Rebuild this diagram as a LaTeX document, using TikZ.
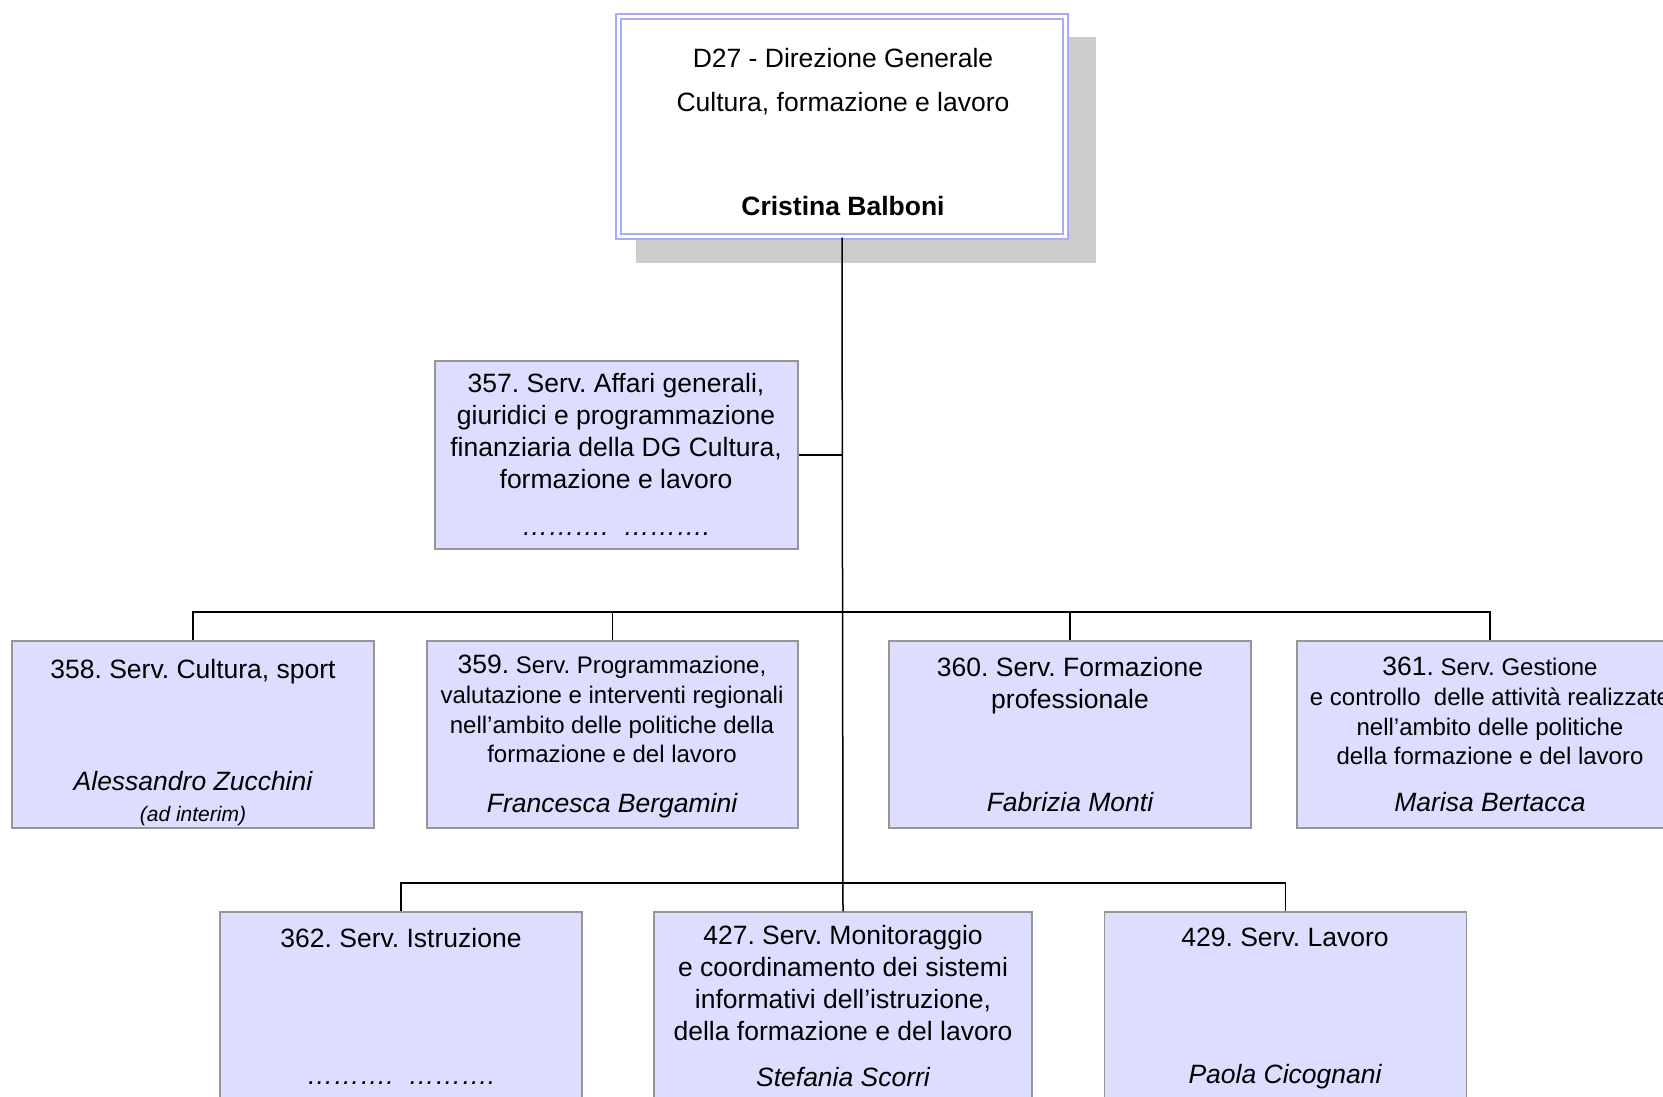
\documentclass[tikz,border=0pt]{standalone}
\usepackage{fontspec}
\setmainfont{Liberation Sans}
\usetikzlibrary{calc}
\usetikzlibrary{shadows}
\definecolor{unitfill}{RGB}{221,221,255}
\definecolor{unitline}{RGB}{150,150,150}
\definecolor{headline}{RGB}{170,170,250}
\definecolor{shadowgray}{RGB}{204,204,204}
\frenchspacing

\begin{document}
\begin{tikzpicture}[x=1pt,y=-1pt,
  unit/.style={draw=unitline,fill=unitfill,line width=1.5pt,minimum width=362pt,minimum height=187pt,inner sep=0pt},
  head/.style={draw=headline,double=white,double distance=3pt,line width=2pt,fill=white,minimum width=447pt,minimum height=220pt,inner sep=0pt,
    drop shadow={shadow xshift=23.5pt,shadow yshift=-23pt,shadow scale=1.03,fill=shadowgray,opacity=1}},
  unittext/.style={anchor=north,inner sep=0pt,align=center,font=\fontsize{26.5}{32}\selectfont},
  smalltext/.style={anchor=north,inner sep=0pt,align=center,font=\fontsize{24}{29.7}\selectfont},
  whotext/.style={anchor=base,inner sep=0pt,font=\fontsize{26.5}{32}\selectfont\itshape},
  link/.style={line width=1.5pt}]
\clip (0,0) rectangle (1663,1096);
\node[head] (head) at (842,126.5) {};
\node[unittext,font=\fontsize{26.5}{44}\selectfont] (headtxt) at (843,48) {D27 - Direzione Generale\\Cultura, formazione e lavoro\\[60pt]\textbf{Cristina Balboni}};

\node[unit,minimum width=363pt,minimum height=188pt] (u357) at (616.5,455) {};
\node[unittext] (t357) at (616,373) {357. Serv. Affari generali,\\giuridici e programmazione\\finanziaria della DG Cultura,\\formazione e lavoro};
\node[whotext] (w357) at (616,535) {……….\ \ ……….};

\node[unit] (u358) at (193,734.5) {};
\node[unittext] (t358) at (193,659) {358. Serv. Cultura, sport};
\node[whotext] (w358) at (193,790) {Alessandro Zucchini};
\node[whotext,font=\fontsize{21}{25}\selectfont\itshape] (i358) at (193,821) {(ad interim)};

\node[unit,minimum width=371pt] (u359) at (612.5,734.5) {};
\node[smalltext] (t359) at (612,655) {{\fontsize{26.5}{29.7}\selectfont 359.} Serv. Programmazione,\\valutazione e interventi regionali\\nell’ambito delle politiche della\\formazione e del lavoro};
\node[whotext] (w359) at (612,812) {Francesca Bergamini};

\node[unit] (u360) at (1070,734.5) {};
\node[unittext] (t360) at (1070,657) {360. Serv. Formazione\\professionale};
\node[whotext] (w360) at (1070,811) {Fabrizia Monti};

\node[unit,minimum width=386pt] (u361) at (1490,734.5) {};
\node[smalltext] (t361) at (1490,657) {{\fontsize{26.5}{29.7}\selectfont 361.} Serv. Gestione\\e controllo\ \ delle attività realizzate\\nell’ambito delle politiche\\della formazione e del lavoro};
\node[whotext] (w361) at (1490,811) {Marisa Bertacca};

\node[unit] (u362) at (401,1005.5) {};
\node[unittext] (t362) at (401,928) {362. Serv. Istruzione};
\node[whotext] (w362) at (401,1084) {……….\ \ ……….};

\node[unit,minimum width=378pt] (u427) at (843,1005.5) {};
\node[unittext] (t427) at (843,925) {427. Serv. Monitoraggio\\e coordinamento dei sistemi\\informativi dell’istruzione,\\della formazione e del lavoro};
\node[whotext] (w427) at (843,1086) {Stefania Scorri};

\node[unit] (u429) at (1285.5,1005.5) {};
\node[unittext] (t429) at (1285,928) {429. Serv. Lavoro};
\node[whotext] (w429) at (1285,1083) {Paola Cicognani};

\coordinate (j2) at (843,612);
\coordinate (j3) at (843,883);
\draw[link] (head.south) -- (u427.north);
\draw[link] (u357.east) -- (u357.east -| head.south);
\foreach \u in {u358,u359,u360,u361}
  \draw[link] (j2) -| (\u.north);
\foreach \u in {u362,u429}
  \draw[link] (j3) -| (\u.north);
\end{tikzpicture}
\end{document}
